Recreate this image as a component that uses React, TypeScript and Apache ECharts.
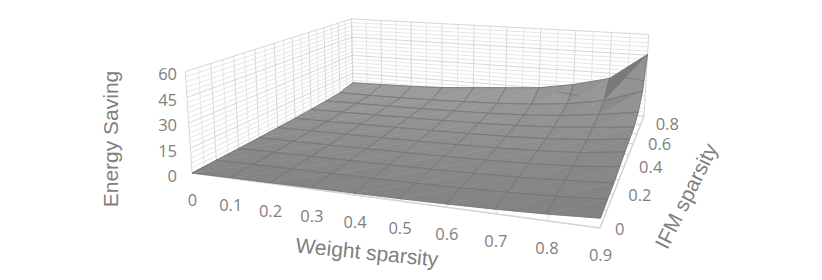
import React, { useEffect, useRef } from "react";
import * as echarts from "echarts";

const weightSparsity = ["0", "0.1", "0.2", "0.3", "0.4", "0.5", "0.6", "0.7", "0.8", "0.9"];
const ifmTicks = ["0", "0.2", "0.4", "0.6", "0.8"];
const savingTicks = [0, 15, 30, 45, 60];
// rows: IFM sparsity 0..0.9, columns: weight sparsity 0..0.9
const row0 = [0, 0.3, 0.5, 0.8, 1, 1.3, 1.8, 2.5, 3.5, 5];
const row1 = [0.3, 0.5, 0.8, 1, 1.3, 1.6, 2.1, 2.9, 4, 5.8];
const row2 = [0.5, 0.8, 1, 1.2, 1.5, 1.9, 2.4, 3.2, 4.6, 6.2];
const row3 = [0.8, 1, 1.2, 1.5, 1.8, 2.2, 2.8, 3.6, 5, 7.5];
const row4 = [1.2, 1.4, 1.6, 1.9, 2.2, 2.6, 3.2, 4.2, 5.8, 9];
const row5 = [1.6, 1.8, 2.1, 2.4, 2.7, 3.2, 3.9, 5, 7, 10];
const row6 = [2.2, 2.4, 2.7, 3, 3.4, 3.9, 4.8, 6.2, 8.5, 11];
const row7 = [3, 3.2, 3.4, 3.7, 4.2, 4.9, 6, 8, 11, 15];
const row8 = [4, 4, 4.2, 4.7, 5.5, 6.5, 8, 10.5, 15, 24];
const row9 = [7, 7.5, 8, 9, 11, 13, 15, 19.5, 26, 45.5];
const energy = [row0, row1, row2, row3, row4, row5, row6, row7, row8, row9];

const xTitle = "Weight sparsity";
const yTitle = "IFM sparsity";
const zTitle = "Energy Saving";
const N = 9;
const ZMAX = 60;
const BANDS = [15, 30, 45];

type P = [number, number];
// Picture positions of the plot box corners
const A: P = [192, 173], B: P = [600, 228], C: P = [644, 116], D: P = [353, 91];
const Atop: P = [184, 72.5], Dtop: P = [353, 19.5], Ctop: P = [648, 33];

function solve(M: number[][], r: number[]) {
  const n = r.length;
  const a = M.map((row, i) => [...row, r[i]]);
  for (let i = 0; i < n; i++) {
    let p = i;
    for (let k = i + 1; k < n; k++) if (Math.abs(a[k][i]) > Math.abs(a[p][i])) p = k;
    [a[i], a[p]] = [a[p], a[i]];
    for (let k = 0; k < n; k++) {
      if (k === i) continue;
      const f = a[k][i] / a[i][i];
      for (let j = i; j <= n; j++) a[k][j] -= f * a[i][j];
    }
  }
  return a.map((row, i) => row[n] / row[i]);
}

// floor homography (u,v) -> picture
const dx1 = B[0] - C[0], dx2 = D[0] - C[0], sx = A[0] - B[0] + C[0] - D[0];
const dy1 = B[1] - C[1], dy2 = D[1] - C[1], sy = A[1] - B[1] + C[1] - D[1];
const det = dx1 * dy2 - dx2 * dy1;
const g = (sx * dy2 - dx2 * sy) / det;
const h = (dx1 * sy - sx * dy1) / det;
const h1 = [B[0] - A[0] + g * B[0], B[1] - A[1] + g * B[1], g];
const h2 = [D[0] - A[0] + h * D[0], D[1] - A[1] + h * D[1], h];
const h3 = [A[0], A[1], 1];

function floorHom(u: number, v: number) {
  return [0, 1, 2].map((i) => h1[i] * u + h2[i] * v + h3[i]);
}
// vertical column of the projection, least squares on the three top corners
const tops: [number, number, P][] = [[0, 0, Atop], [0, 1, Dtop], [1, 1, Ctop]];
const eqs: number[][] = [];
const rhs: number[] = [];
tops.forEach(([u, v, p]) => {
  const f = floorHom(u, v);
  eqs.push([1, 0, -p[0]]); rhs.push(p[0] * f[2] - f[0]);
  eqs.push([0, 1, -p[1]]); rhs.push(p[1] * f[2] - f[1]);
});
const ata = [0, 1, 2].map((i) => [0, 1, 2].map((j) => eqs.reduce((s, e) => s + e[i] * e[j], 0)));
const atb = [0, 1, 2].map((i) => eqs.reduce((s, e, k) => s + e[i] * rhs[k], 0));
const h4 = solve(ata, atb);

function project(xi: number, yi: number, z: number): P {
  const f = floorHom(xi / N, yi / N);
  const t = z / ZMAX;
  const w = f[2] + h4[2] * t;
  return [(f[0] + h4[0] * t) / w, (f[1] + h4[1] * t) / w];
}

function gray(v: number) {
  const c = Math.max(0, Math.min(255, Math.round(v)));
  return `rgb(${c},${c},${c})`;
}
function shade(yi: number, dzdx: number, dzdy: number) {
  return gray(132 + (24 * yi) / N - 2 * Math.max(0, dzdx) + 0.5 * Math.max(0, dzdy));
}

const line = (pts: P[], stroke: string, lineWidth: number) => ({
  type: "polyline",
  shape: { points: pts },
  style: { stroke, lineWidth, fill: "none" },
  silent: true,
});

function wallElements() {
  const out: any[] = [];
  const major = "#d6d6d6", minor = "#e6e6e6";
  for (let s = 0; s <= 2 * N; s++) {
    const c = s % 2 === 0 ? major : minor;
    out.push(line([project(0, s / 2, 0), project(0, s / 2, ZMAX)], c, 1));
    out.push(line([project(s / 2, N, 0), project(s / 2, N, ZMAX)], c, 1));
  }
  for (let z = 0; z <= ZMAX; z += 3) {
    const c = z % 15 === 0 ? major : minor;
    out.push(line([project(0, 0, z), project(0, N, z), project(N, N, z)], c, 1));
  }
  for (let s = 0; s <= N; s++) {
    out.push(line([project(s, 0, 0), project(s, N, 0)], major, 1));
    out.push(line([project(0, s, 0), project(N, s, 0)], major, 1));
  }
  out.push(line([project(0, 0, 0), project(N, 0, 0), project(N, N, 0)], major, 1.5));
  return out;
}

type V = [number, number, number];
function contourSegs(tri: V[], edge: string) {
  const out: any[] = [];
  BANDS.forEach((level) => {
    const pts: P[] = [];
    for (let i = 0; i < 3; i++) {
      const a = tri[i], b = tri[(i + 1) % 3];
      if ((a[2] - level) * (b[2] - level) < 0) {
        const t = (level - a[2]) / (b[2] - a[2]);
        pts.push(project(a[0] + t * (b[0] - a[0]), a[1] + t * (b[1] - a[1]), level));
      }
    }
    if (pts.length === 2) out.push(line(pts, edge, 0.7));
  });
  return out;
}

function cellElements(xi: number, yi: number) {
  const z00 = energy[yi][xi], z10 = energy[yi][xi + 1], z01 = energy[yi + 1][xi], z11 = energy[yi + 1][xi + 1];
  const p00 = project(xi, yi, z00), p10 = project(xi + 1, yi, z10), p01 = project(xi, yi + 1, z01), p11 = project(xi + 1, yi + 1, z11);
  const f1 = shade(yi + 0.3, z10 - z00, z11 - z10);
  const f2 = shade(yi + 0.7, z11 - z01, z01 - z00);
  const edge = "#747474";
  const v00: V = [xi, yi, z00], v10: V = [xi + 1, yi, z10], v01: V = [xi, yi + 1, z01], v11: V = [xi + 1, yi + 1, z11];
  return [
    { type: "polygon", shape: { points: [p00, p10, p11] }, style: { fill: f1, stroke: f1, lineWidth: 0.5 }, silent: true },
    { type: "polygon", shape: { points: [p00, p11, p01] }, style: { fill: f2, stroke: f2, lineWidth: 0.5 }, silent: true },
    line([p01, p00, p10], edge, 0.8),
    line([p01, p11, p10], edge, 0.8),
    ...contourSegs([v00, v10, v11], edge),
    ...contourSegs([v00, v11, v01], edge),
  ];
}

const text = (t: string, x: number, y: number, font: string, align = "center", rotation = 0, lineHeight?: number) => ({
  type: "text",
  x,
  y,
  rotation,
  style: { text: t, font, fill: "#7f7f7f", align, verticalAlign: "middle", lineHeight },
  silent: true,
});

function labelElements() {
  const tickFont = '16.5px "Open Sans"';
  const titleFont = '21px "Liberation Sans"';
  const out: any[] = [];
  weightSparsity.forEach((t, i) => {
    const p = project(i, 0, 0);
    out.push(text(t, p[0] + 0.5, p[1] + 26.5, tickFont, "center", 0, 17));
  });
  ifmTicks.forEach((t, i) => {
    const p = project(N, i * 2, 0);
    out.push(text(t, p[0] + 15, p[1] - (i === 4 ? 1 : 0), tickFont, "left", 0, 17));
  });
  savingTicks.forEach((v) => {
    const p = project(0, 0, v);
    out.push(text(String(v), 177, p[1] + 2, tickFont, "right", 0, 17));
  });
  out.push(text(zTitle, 110, 139, titleFont, "center", Math.PI / 2));
  out.push(text(xTitle, 367, 252, titleFont, "center", -0.1));
  out.push(text(yTitle, 686, 196, titleFont, "center", 1.11));
  return out;
}

const cellOrder: number[][] = [];
for (let yi = N - 1; yi >= 0; yi--) for (let xi = 0; xi < N; xi++) cellOrder.push([xi, yi]);

export default function App() {
  const ref = useRef<HTMLDivElement>(null);
  useEffect(() => {
    document.body.style.margin = "0";
    const chart = echarts.init(ref.current!, null, { renderer: "svg" });
    chart.setOption({
      animation: false,
      backgroundColor: "#ffffff",
      series: [
        {
          type: "custom", coordinateSystem: "none", silent: true, data: [[0]],
          renderItem: () => ({ type: "group", children: wallElements() }),
        },
        {
          type: "custom", coordinateSystem: "none", silent: true, data: cellOrder,
          renderItem: (_p: any, api: any) => ({ type: "group", children: cellElements(api.value(0), api.value(1)) }),
        },
        {
          type: "custom", coordinateSystem: "none", silent: true, data: [[0]],
          renderItem: () => ({ type: "group", children: labelElements() }),
        },
      ],
    });
    return () => chart.dispose();
  }, []);
  return <div ref={ref} style={{ position: "absolute", left: 0, top: 0, width: 822, height: 280 }} />;
}
